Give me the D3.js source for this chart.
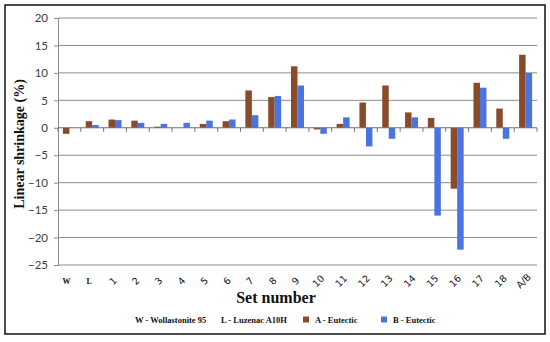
<!DOCTYPE html>
<html>
<head>
<meta charset="utf-8">
<script src="https://cdn.jsdelivr.net/npm/d3@7"></script>
<style>
  body { margin: 0; background: #fff; }
  svg { display: block; }
</style>
</head>
<body>
<svg id="chart" width="550" height="342"></svg>
<script>
// ===== DADOS =====

const categories = ["W", "L", "1", "2", "3", "4", "5", "6", "7", "8", "9",
  "10", "11", "12", "13", "14", "15", "16", "17", "18", "A/B"];
const seriesA = [-1.1, 1.2, 1.5, 1.3, 0.2, 0, 0.7, 1.2, 6.8, 5.6, 11.2,
  -0.3, 0.7, 4.6, 7.7, 2.8, 1.8, -11.1, 8.2, 3.5, 13.3];
const seriesB = [0, 0.5, 1.4, 0.9, 0.7, 0.9, 1.3, 1.5, 2.3, 5.8, 7.7,
  -1.1, 1.9, -3.4, -2.0, 1.9, -16.0, -22.2, 7.3, -2.0, 10.0];
const yTicks = [20, 15, 10, 5, 0, -5, -10, -15, -20, -25];
const legendItems = [
  { label: "W - Wollastonite 95", swatch: null },
  { label: "L - Luzenac A10H", swatch: null },
  { label: "A - Eutectic", swatch: "A" },
  { label: "B - Eutectic", swatch: "B" }
];

const colorA = "#8a4b2a";
const colorB = "#4a74e0";
const serif = "'Liberation Serif', 'DejaVu Serif', serif";

// ===== ESCALAS =====

const margin = { top: 18, right: 13, bottom: 77, left: 58 };
const width = 550, height = 342;

const svg = d3.select("#chart");

const x = d3.scaleBand()
  .domain(categories)
  .range([margin.left, width - margin.right]);

const bw = x.bandwidth();
const x1 = d3.scaleBand()
  .domain(["A", "B"])
  .range([bw * 0.215, bw * 0.785]);

const y = d3.scaleLinear()
  .domain([-25, 20])
  .range([height - margin.bottom, margin.top]);

// moldura externa
svg.append("rect")
  .attr("x", 5).attr("y", 5)
  .attr("width", 540).attr("height", 329)
  .attr("fill", "none")
  .attr("stroke", "#111")
  .attr("stroke-width", 1.5);

// ===== GRADE =====

svg.append("g")
  .selectAll("line")
  .data(yTicks.filter(d => d !== 0))
  .join("line")
  .attr("x1", margin.left)
  .attr("x2", width - margin.right)
  .attr("y1", d => y(d))
  .attr("y2", d => y(d))
  .attr("stroke", "#8c8c8c")
  .attr("stroke-width", 1);

// ===== EIXO Y =====

const yAxis = svg.append("g")
  .attr("transform", `translate(${margin.left},0)`)
  .call(d3.axisLeft(y).tickValues(yTicks).tickSize(4).tickPadding(6));
yAxis.select(".domain").attr("stroke", "#8c8c8c");
yAxis.selectAll(".tick line").attr("stroke", "#8c8c8c");
yAxis.selectAll(".tick text")
  .attr("fill", "#404040")
  .style("font-family", "Lato, 'Open Sans', sans-serif")
  .style("font-size", "11.5px");

svg.append("text")
  .attr("transform", "translate(24,144) rotate(-90)")
  .attr("text-anchor", "middle")
  .style("font-family", serif)
  .style("font-weight", "bold")
  .style("font-size", "14px")
  .attr("fill", "#111")
  .text("Linear shrinkage (%)");

// ===== BARRAS =====

const groups = svg.append("g")
  .selectAll("g")
  .data(categories.map((c, i) => ({ c, a: seriesA[i], b: seriesB[i] })))
  .join("g")
  .attr("transform", d => `translate(${x(d.c)},0)`);

groups.append("rect")
  .attr("x", x1("A"))
  .attr("width", x1.bandwidth())
  .attr("y", d => y(Math.max(0, d.a)))
  .attr("height", d => Math.abs(y(d.a) - y(0)))
  .attr("fill", colorA);

groups.append("rect")
  .attr("x", x1("B"))
  .attr("width", x1.bandwidth())
  .attr("y", d => y(Math.max(0, d.b)))
  .attr("height", d => Math.abs(y(d.b) - y(0)))
  .attr("fill", colorB);

// linha do zero com marcas entre categorias
const zeroAxis = svg.append("g")
  .attr("transform", `translate(0,${y(0)})`);
zeroAxis.append("line")
  .attr("x1", margin.left)
  .attr("x2", width - margin.right)
  .attr("stroke", "#6e6e6e");
zeroAxis.selectAll("line.tk")
  .data(categories.concat(["end"]))
  .join("line")
  .attr("class", "tk")
  .attr("x1", (d, i) => margin.left + i * x.step())
  .attr("x2", (d, i) => margin.left + i * x.step())
  .attr("y1", 0).attr("y2", 4)
  .attr("stroke", "#6e6e6e");

// ===== EIXO X (rótulos) =====

const xLabels = svg.append("g")
  .selectAll("text")
  .data(categories)
  .join("text")
  .attr("text-anchor", "middle")
  .attr("fill", "#111");

xLabels.filter(d => d === "W" || d === "L")
  .attr("x", d => x(d) + bw / 2 - 3)
  .attr("y", 284)
  .style("font-family", serif)
  .style("font-weight", "bold")
  .style("font-size", "8px")
  .text(d => d);

xLabels.filter(d => d !== "W" && d !== "L")
  .attr("transform", d => `translate(${x(d) + bw / 2 - 2},${281}) rotate(-45)`)
  .attr("dy", "0.35em")
  .style("font-family", "'DejaVu Sans', sans-serif")
  .style("font-size", "9.5px")
  .text(d => d);

svg.append("text")
  .attr("x", 276)
  .attr("y", 303)
  .attr("text-anchor", "middle")
  .style("font-family", serif)
  .style("font-weight", "bold")
  .style("font-size", "16px")
  .attr("fill", "#111")
  .text("Set number");

// ===== LEGENDA =====

const legendX = [135, 221, 315, 393];
const legend = svg.append("g")
  .selectAll("g")
  .data(legendItems)
  .join("g")
  .attr("transform", (d, i) => `translate(${legendX[i]},323)`);

legend.filter(d => d.swatch)
  .append("rect")
  .attr("x", -12).attr("y", -6.5)
  .attr("width", 6).attr("height", 6)
  .attr("fill", d => d.swatch === "A" ? colorA : colorB);

legend.append("text")
  .style("font-family", serif)
  .style("font-weight", "bold")
  .style("font-size", "8.5px")
  .attr("fill", "#111")
  .text(d => d.label);
</script>
</body>
</html>
